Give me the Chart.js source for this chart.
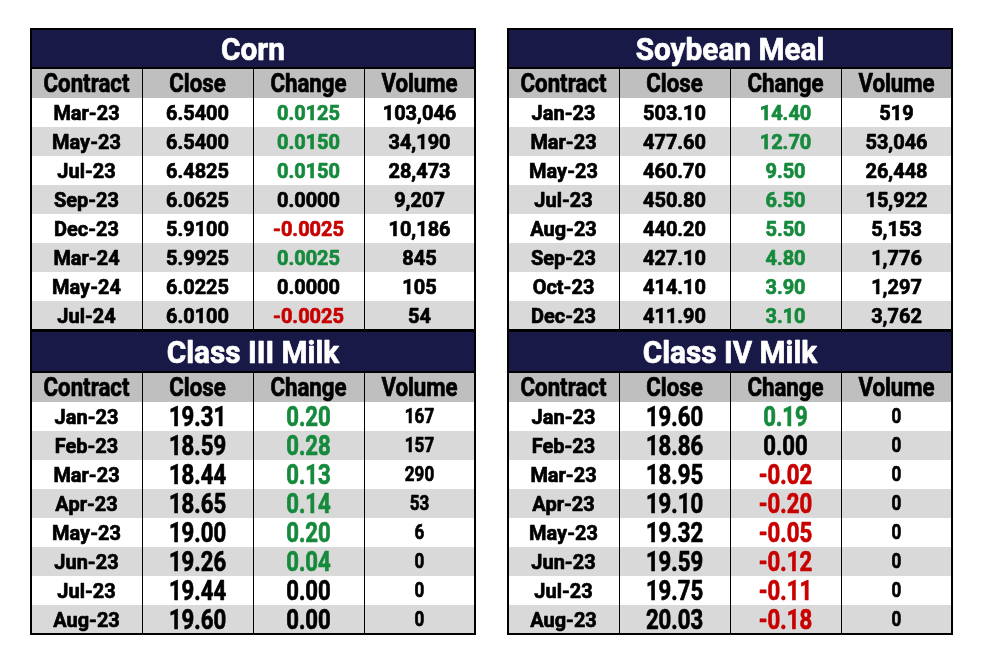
<!DOCTYPE html>
<html>
<head>
<meta charset="utf-8">
<script src="https://cdn.jsdelivr.net/npm/chart.js@4.4.1/dist/chart.umd.min.js"></script>
<style>
  html, body { margin: 0; padding: 0; background: #fff; }
  #wrap { width: 983px; height: 661px; }
</style>
</head>
<body>
<div id="wrap"><canvas id="board" width="983" height="661"></canvas></div>
<script>
// Column headings shared by all four boards
const headers = ['Contract', 'Close', 'Change', 'Volume'];

// Corn
const cornContracts = ['Mar-23', 'May-23', 'Jul-23', 'Sep-23', 'Dec-23', 'Mar-24', 'May-24', 'Jul-24'];
const cornClose = [6.5400, 6.5400, 6.4825, 6.0625, 5.9100, 5.9925, 6.0225, 6.0100];
const cornChange = [0.0125, 0.0150, 0.0150, 0.0000, -0.0025, 0.0025, 0.0000, -0.0025];
const cornVolume = [103046, 34190, 28473, 9207, 10186, 845, 105, 54];

// Soybean Meal
const mealContracts = ['Jan-23', 'Mar-23', 'May-23', 'Jul-23', 'Aug-23', 'Sep-23', 'Oct-23', 'Dec-23'];
const mealClose = [503.10, 477.60, 460.70, 450.80, 440.20, 427.10, 414.10, 411.90];
const mealChange = [14.40, 12.70, 9.50, 6.50, 5.50, 4.80, 3.90, 3.10];
const mealVolume = [519, 53046, 26448, 15922, 5153, 1776, 1297, 3762];

// Class III Milk
const milk3Contracts = ['Jan-23', 'Feb-23', 'Mar-23', 'Apr-23', 'May-23', 'Jun-23', 'Jul-23', 'Aug-23'];
const milk3Close = [19.31, 18.59, 18.44, 18.65, 19.00, 19.26, 19.44, 19.60];
const milk3Change = [0.20, 0.28, 0.13, 0.14, 0.20, 0.04, 0.00, 0.00];
const milk3Volume = [167, 157, 290, 53, 6, 0, 0, 0];

// Class IV Milk
const milk4Contracts = ['Jan-23', 'Feb-23', 'Mar-23', 'Apr-23', 'May-23', 'Jun-23', 'Jul-23', 'Aug-23'];
const milk4Close = [19.60, 18.86, 18.95, 19.10, 19.32, 19.59, 19.75, 20.03];
const milk4Change = [0.19, 0.00, -0.02, -0.20, -0.05, -0.12, -0.11, -0.18];
const milk4Volume = [0, 0, 0, 0, 0, 0, 0, 0];

// Layout in scale units: x = one column, y = one data row
const COL_PX = 111, ROW_PX = 29;
const xMin = -31 / COL_PX;
const xMax = xMin + 983 / COL_PX;
const yMax = 661 / ROW_PX;

const FONT = "Roboto, 'Noto Sans', sans-serif";
const CAP = 0.711; // cap height of Roboto per em
const NAVY = '#191947';
const HEAD_GRAY = '#bfbfbf';
const ROW_GRAY = '#d9d9d9';
const GREEN = '#168a3c';
const RED = '#c80000';

// text styles: size in px, horizontal squeeze
const TITLE = { size: 32, sx: 0.93 };
const HEAD = { size: 25, sx: 0.89 };
const CELL = { size: 21, sx: 0.95 };
const BIG = { size: 27, sx: 0.82 };
const SMALL = { size: 20, sx: 0.85 };

const boards = [
    { title: 'Corn', x0: 0, y0: 1.0, titleH: 1.345, headH: 1.03,
      contracts: cornContracts, close: cornClose, change: cornChange, volume: cornVolume,
      closeDp: 4, changeDp: 4, big: false },
    { title: 'Soybean Meal', x0: 477 / COL_PX, y0: 1.0, titleH: 1.345, headH: 1.03,
      contracts: mealContracts, close: mealClose, change: mealChange, volume: mealVolume,
      closeDp: 2, changeDp: 2, big: false },
    { title: 'Class III Milk', x0: 0, y0: 331 / ROW_PX, titleH: 1.41, headH: 1.03,
      contracts: milk3Contracts, close: milk3Close, change: milk3Change, volume: milk3Volume,
      closeDp: 2, changeDp: 2, big: true },
    { title: 'Class IV Milk', x0: 477 / COL_PX, y0: 331 / ROW_PX, titleH: 1.41, headH: 1.03,
      contracts: milk4Contracts, close: milk4Close, change: milk4Change, volume: milk4Volume,
      closeDp: 2, changeDp: 2, big: true }
];

function changeColor(v) {
    if (v > 0) return GREEN;
    if (v < 0) return RED;
    return '#000';
}

// centred text, squeezed sideways to mimic a condensed face
function putText(ctx, str, x, yMid, style, color) {
    ctx.save();
    ctx.font = 'bold ' + style.size + 'px ' + FONT;
    ctx.fillStyle = color;
    ctx.strokeStyle = color;
    ctx.lineWidth = 0.7;
    ctx.lineJoin = 'round';
    ctx.textAlign = 'center';
    ctx.textBaseline = 'alphabetic';
    ctx.translate(x, yMid + style.size * CAP / 2);
    ctx.scale(style.sx, 1);
    ctx.fillText(str, 0, 0);
    ctx.strokeText(str, 0, 0);
    ctx.restore();
}

function drawBoard(chart, b) {
    const ctx = chart.ctx;
    const xs = chart.scales.x, ys = chart.scales.y;
    const px = v => Math.round(xs.getPixelForValue(v));
    const py = v => Math.round(ys.getPixelForValue(v));

    const left = px(b.x0), right = px(b.x0 + 4);
    const top = py(b.y0);
    const titleBot = py(b.y0 + b.titleH);
    const headBot = py(b.y0 + b.titleH + b.headH);
    const rowsTop = b.y0 + b.titleH + b.headH;
    const n = b.contracts.length;
    const bottom = py(rowsTop + n);

    // title band
    ctx.fillStyle = NAVY;
    ctx.fillRect(left, top, right - left, titleBot - top);
    // header band
    ctx.fillStyle = HEAD_GRAY;
    ctx.fillRect(left, titleBot, right - left, headBot - titleBot);
    // alternating rows
    for (let i = 0; i < n; i++) {
        const r0 = py(rowsTop + i), r1 = py(rowsTop + i + 1);
        ctx.fillStyle = i % 2 === 0 ? '#ffffff' : ROW_GRAY;
        ctx.fillRect(left, r0, right - left, r1 - r0);
    }

    // column lines
    ctx.strokeStyle = '#000';
    ctx.lineWidth = 1;
    ctx.beginPath();
    for (let c = 1; c < 4; c++) {
        const x = px(b.x0 + c) + 0.5;
        ctx.moveTo(x, titleBot);
        ctx.lineTo(x, bottom);
    }
    ctx.stroke();

    // line under title
    ctx.lineWidth = 2;
    ctx.beginPath();
    ctx.moveTo(left, titleBot);
    ctx.lineTo(right, titleBot);
    ctx.stroke();

    // outer frame
    ctx.strokeRect(left, top, right - left, bottom - top);

    // texts
    const cx = c => xs.getPixelForValue(b.x0 + c + 0.5);
    putText(ctx, b.title, xs.getPixelForValue(b.x0 + 2), (top + titleBot) / 2, TITLE, '#fff');
    headers.forEach((h, c) => putText(ctx, h, cx(c), (titleBot + headBot) / 2, HEAD, '#000'));

    for (let i = 0; i < n; i++) {
        const yc = ys.getPixelForValue(rowsTop + i + 0.5);
        const numStyle = b.big ? BIG : CELL;
        putText(ctx, b.contracts[i], cx(0), yc, CELL, '#000');
        putText(ctx, b.close[i].toFixed(b.closeDp), cx(1), yc, numStyle, '#000');
        putText(ctx, b.change[i].toFixed(b.changeDp), cx(2), yc, numStyle, changeColor(b.change[i]));
        putText(ctx, b.volume[i].toLocaleString('en-US'), cx(3), yc, b.big ? SMALL : CELL, '#000');
    }
}

const boardPlugin = {
    id: 'boards',
    afterDraw(chart) {
        chart.ctx.save();
        boards.forEach(b => drawBoard(chart, b));
        chart.ctx.restore();
    }
};

document.addEventListener('DOMContentLoaded', function() {
    const ctx = document.getElementById('board').getContext('2d');
    new Chart(ctx, {
        type: 'scatter',
        data: { datasets: [] },
        options: {
            responsive: false,
            animation: false,
            layout: { padding: 0 },
            plugins: { legend: { display: false }, tooltip: { enabled: false } },
            scales: {
                x: { type: 'linear', min: xMin, max: xMax, display: false },
                y: { type: 'linear', min: 0, max: yMax, reverse: true, display: false }
            }
        },
        plugins: [boardPlugin]
    });
});
</script>
</body>
</html>
